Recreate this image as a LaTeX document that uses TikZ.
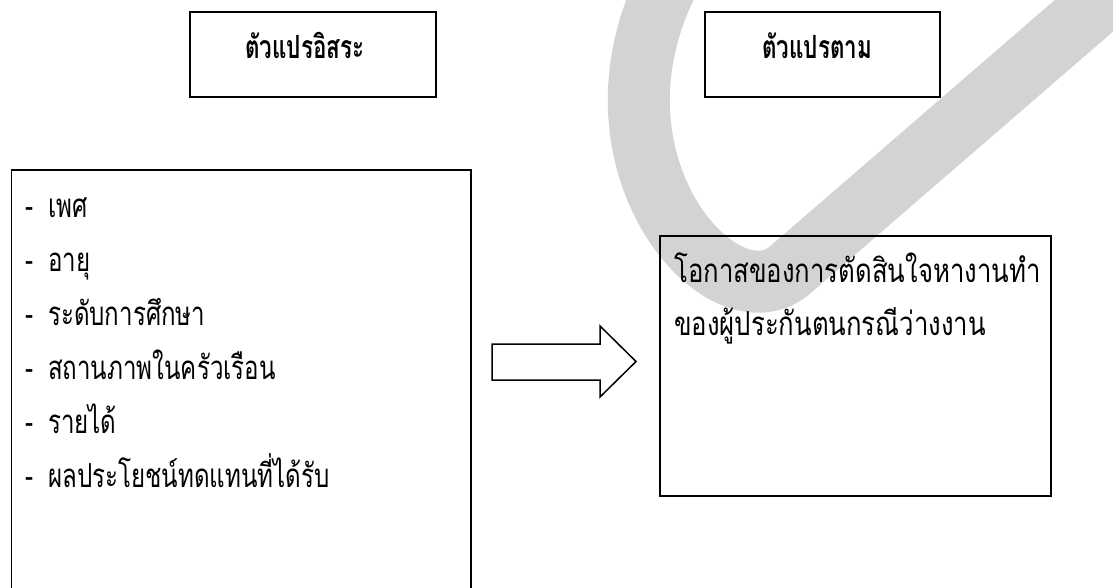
\documentclass[tikz,border=0pt]{standalone}
\usepackage{fontspec}
\newfontfamily\thaifont[Script=Thai,FakeStretch=0.73]{Loma}
\newfontfamily\thaiwide[Script=Thai,FakeStretch=0.78]{Loma}
\newfontfamily\thaititle[Script=Thai,FakeStretch=0.70]{Loma}
\definecolor{wmark}{RGB}{211,211,211}
\begin{document}
\begin{tikzpicture}[x=1pt,y=-1pt,
  boxline/.style={draw=black,line width=1.8pt,inner sep=0pt},
  titlefont/.style={font=\thaititle\bfseries\fontsize{32}{36}\selectfont,inner sep=0pt},
  itemfont/.style={font=\thaifont\fontsize{33}{38}\selectfont,inner sep=0pt},
  resfont/.style={font=\thaiwide\fontsize{33}{38}\selectfont,inner sep=0pt},
]
\clip (0,0) rectangle (1113,588);
\fill[white] (0,0) rectangle (1113,588);
% watermark check mark
\draw[wmark,line width=62pt,line join=round] (680,-40) .. controls (565,150) and (720,330) .. (790,270) -- (1160,-50);
% title boxes
\node[boxline, minimum width=246pt, minimum height=85pt] (indep) at (313,54.5) {};
\node[titlefont, anchor=base west] (indept) at (245,59) {ตัวแปรอิสระ};
\node[boxline, minimum width=235pt, minimum height=85pt] (dep) at (822.5,54.5) {};
\node[titlefont, anchor=base west] (dept) at (762,59) {ตัวแปรตาม};
% left box
\node[boxline, minimum width=459.4pt, minimum height=441pt, anchor=north west] (lbox) at (10.6,169) {};
\node[itemfont, anchor=base west] (i1) at (25,217) {\makebox[23pt][l]{-}เพศ};
\node[itemfont, anchor=base west] (i2) at (25,271) {\makebox[23pt][l]{-}อายุ};
\node[itemfont, anchor=base west] (i3) at (25,325) {\makebox[23pt][l]{-}ระดับการศึกษา};
\node[itemfont, anchor=base west] (i4) at (25,379) {\makebox[23pt][l]{-}สถานภาพในครัวเรือน};
\node[itemfont, anchor=base west] (i5) at (25,433) {\makebox[23pt][l]{-}รายได้};
\node[itemfont, anchor=base west] (i6) at (25,487) {\makebox[23pt][l]{-}ผลประโยชน์ทดแทนที่ได้รับ};
% right box
\node[boxline, minimum width=391pt, minimum height=260pt] (rbox) at (855.5,366) {};
\node[resfont, anchor=base west] (r1) at (674,282) {โอกาสของการตัดสินใจหางานทำ};
\node[resfont, anchor=base west] (r2) at (674,335) {ของผู้ประกันตนกรณีว่างงาน};
% block arrow
\draw[line width=1.5pt,line join=miter,fill=white] (492,344) -- (600,344) -- (600,326) -- (636,361.5) -- (600,397) -- (600,380) -- (492,380) -- cycle;
\end{tikzpicture}
\end{document}
